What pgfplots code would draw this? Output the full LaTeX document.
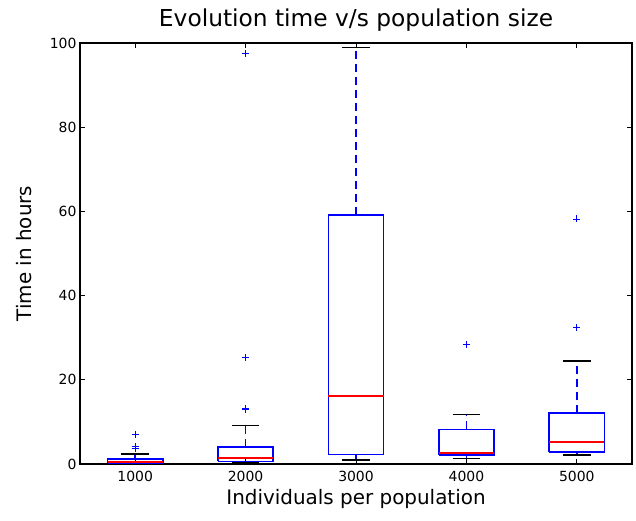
\documentclass[border=0pt]{standalone}
\usepackage{fontspec}
\setmainfont{DejaVu Sans}
\usepackage{pgfplots}
\pgfplotsset{compat=1.18}

% box plot pieces (quartiles, medians, whiskers, outliers)
\begin{document}
\begin{tikzpicture}
\begin{axis}[
    scale only axis,
    width=552bp, height=421bp,
    xmin=0.5, xmax=5.5,
    ymin=0, ymax=100,
    clip=false,
    unbounded coords=jump,
    xtick={1,2,3,4,5},
    xticklabels={1000,2000,3000,4000,5000},
    ytick={0,20,40,60,80,100},
    tick align=inside,
    tick pos=both,
    major tick length=5bp,
    tick style={black, line width=0.9bp},
    axis line style={black, line width=1.2bp},
    /pgf/number format/assume math mode=true,
    tick label style={font=\fontsize{14}{16}\selectfont},
    xticklabel style={yshift=-4bp},
    title={Evolution time v/s population size},
    title style={font=\fontsize{23.4}{28}\selectfont, yshift=2bp},
    xlabel={Individuals per population},
    ylabel={Time in hours},
    ylabel shift=11bp,
    label style={font=\fontsize{20}{24}\selectfont},
]
% whiskers
\addplot[blue, line width=1.6bp, dash pattern=on 8bp off 5bp, mark=none] coordinates {
  (1,0) (1,0.24) (1,nan) (1,1.2) (1,2.4) (1,nan)
  (2,0.48) (2,0.64) (2,nan) (2,4.0) (2,9.1) (2,nan)
  (3,1.0) (3,2.3) (3,nan) (3,59.1) (3,98.9) (3,nan)
  (4,1.3) (4,2.1) (4,nan) (4,8.2) (4,11.8) (4,nan)
  (5,2.1) (5,2.8) (5,nan) (5,12.1) (5,24.5)
};
% whisker caps
\addplot[black, line width=1.6bp, mark=none] coordinates {
  (0.875,0) (1.125,0) (1,nan) (0.875,2.4) (1.125,2.4) (1,nan)
  (1.875,0.48) (2.125,0.48) (2,nan) (1.875,9.1) (2.125,9.1) (2,nan)
  (2.875,1.0) (3.125,1.0) (3,nan) (2.875,98.9) (3.125,98.9) (3,nan)
  (3.875,1.3) (4.125,1.3) (4,nan) (3.875,11.8) (4.125,11.8) (4,nan)
  (4.875,2.1) (5.125,2.1) (5,nan) (4.875,24.5) (5.125,24.5)
};
% boxes (lower to upper quartile)
\addplot[blue, line width=1.6bp, mark=none] coordinates {
  (0.75,0.24) (1.25,0.24) (1.25,1.2) (0.75,1.2) (0.75,0.24) (1,nan)
  (1.75,0.64) (2.25,0.64) (2.25,4.0) (1.75,4.0) (1.75,0.64) (2,nan)
  (2.75,2.3) (3.25,2.3) (3.25,59.1) (2.75,59.1) (2.75,2.3) (3,nan)
  (3.75,2.1) (4.25,2.1) (4.25,8.2) (3.75,8.2) (3.75,2.1) (4,nan)
  (4.75,2.8) (5.25,2.8) (5.25,12.1) (4.75,12.1) (4.75,2.8)
};
% medians
\addplot[red, line width=1.6bp, mark=none] coordinates {
  (0.75,0.5) (1.25,0.5) (1,nan)
  (1.75,1.45) (2.25,1.45) (2,nan)
  (2.75,16.2) (3.25,16.2) (3,nan)
  (3.75,2.6) (4.25,2.6) (4,nan)
  (4.75,5.2) (5.25,5.2)
};
% outliers
\addplot[only marks, mark=+, mark size=3.5bp, mark options={blue, line width=0.9bp}] coordinates {
  (1,7.1) (1,4.1) (1,3.6)
  (2,13.0) (2,13.2) (2,25.2) (2,97.6)
  (4,28.4)
  (5,32.4) (5,58.2)
};
\end{axis}
\pgfresetboundingbox
\path[use as bounding box]
  ([shift={(-80bp,-57bp)}]current axis.south west)
  rectangle ([shift={(4bp,43bp)}]current axis.north east);
\end{tikzpicture}
\end{document}
